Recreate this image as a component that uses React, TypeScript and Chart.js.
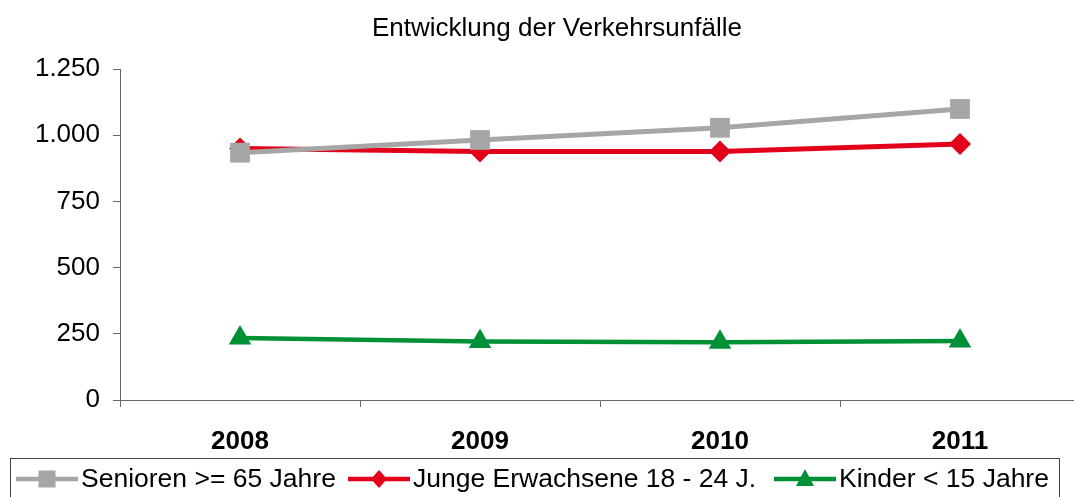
import React, { useEffect, useRef } from "react";
import { Chart, registerables } from "chart.js";

Chart.register(...registerables);

const categories = ["2008", "2009", "2010", "2011"];
const seniorenValues = [934, 982, 1028, 1099];
const jungeValues = [950, 938, 938, 967];
const kinderValues = [234, 221, 218, 223];
const yTicks = [0, 250, 500, 750, 1000, 1250];
const seriesLabels = ["Senioren >= 65 Jahre", "Junge Erwachsene 18 - 24 J.", "Kinder < 15 Jahre"];
const titleText = "Entwicklung der Verkehrsunfälle";

const GREY = "#A6A6A6";
const RED = "#E2001A";
const GREEN = "#009036";
const FONT = "'Liberation Sans', Arial, sans-serif";

function drawMarker(ctx: CanvasRenderingContext2D, style: string, x: number, y: number, color: string) {
  ctx.save();
  ctx.fillStyle = color;
  ctx.beginPath();
  if (style === "rect") {
    ctx.rect(x - 8.5, y - 8.5, 17, 17);
  } else if (style === "rectRot") {
    ctx.moveTo(x, y - 9);
    ctx.lineTo(x + 8, y);
    ctx.lineTo(x, y + 9);
    ctx.lineTo(x - 8, y);
    ctx.closePath();
  } else {
    ctx.moveTo(x, y - 10);
    ctx.lineTo(x + 9, y + 7);
    ctx.lineTo(x - 9, y + 7);
    ctx.closePath();
  }
  ctx.fill();
  ctx.restore();
}

const overlayPlugin = {
  id: "overlay",
  afterDraw(chart: any) {
    const ctx: CanvasRenderingContext2D = chart.ctx;
    ctx.save();
    // title
    ctx.fillStyle = "#000";
    ctx.font = `26px ${FONT}`;
    ctx.textAlign = "center";
    ctx.textBaseline = "middle";
    ctx.fillText(titleText, 557, 29);
    // legend box
    ctx.strokeStyle = "#404040";
    ctx.lineWidth = 1;
    ctx.strokeRect(10.5, 458.5, 1049, 60);
    const items = [
      { x: 16, color: GREY, style: "rect" },
      { x: 348, color: RED, style: "rectRot" },
      { x: 774, color: GREEN, style: "triangle" },
    ];
    const ly = 479;
    items.forEach((it, i) => {
      ctx.strokeStyle = it.color;
      ctx.lineWidth = 4.5;
      ctx.beginPath();
      ctx.moveTo(it.x, ly);
      ctx.lineTo(it.x + 62, ly);
      ctx.stroke();
      drawMarker(ctx, it.style, it.x + 31, ly, it.color);
      ctx.fillStyle = "#000";
      ctx.font = `26.5px ${FONT}`;
      ctx.textAlign = "left";
      ctx.textBaseline = "middle";
      ctx.fillText(seriesLabels[i], it.x + 65, ly + 1);
    });
    ctx.restore();
  },
};

export default function App() {
  const ref = useRef<HTMLCanvasElement>(null);
  useEffect(() => {
    if (!ref.current) return;
    const chart = new Chart(ref.current, {
      type: "line",
      data: {
        labels: categories,
        datasets: [
          {
            label: seriesLabels[0],
            data: seniorenValues,
            borderColor: GREY,
            backgroundColor: GREY,
            borderWidth: 5,
            pointStyle: "rect",
            pointRadius: 14,
            pointBorderWidth: 0,
          },
          {
            label: seriesLabels[1],
            data: jungeValues,
            borderColor: RED,
            backgroundColor: RED,
            borderWidth: 5,
            pointStyle: "rectRot",
            pointRadius: 11,
            pointBorderWidth: 0,
          },
          {
            label: seriesLabels[2],
            data: kinderValues,
            borderColor: GREEN,
            backgroundColor: GREEN,
            borderWidth: 4.5,
            pointStyle: "triangle",
            pointRadius: 13,
            pointBorderWidth: 0,
          },
        ],
      },
      options: {
        responsive: false,
        animation: false,
        layout: { padding: { top: 69, right: 20, left: 0, bottom: 0 } },
        plugins: { legend: { display: false }, title: { display: false }, tooltip: { enabled: false } },
        scales: {
          x: {
            offset: true,
            grid: { display: true, offset: true, drawOnChartArea: false, tickLength: 7, color: "#666", lineWidth: 1 },
            border: { color: "#666", width: 1 },
            ticks: { color: "#000", font: { family: FONT, size: 26, weight: "bold" }, padding: 19 },
            afterFit: (s: any) => { s.height = 97; },
          },
          y: {
            min: 0,
            max: 1250,
            afterBuildTicks: (s: any) => { s.ticks = yTicks.map((v) => ({ value: v })); },
            grid: { display: true, drawOnChartArea: false, tickLength: 7, color: "#666", lineWidth: 1 },
            border: { color: "#666", width: 1 },
            ticks: {
              color: "#000",
              font: { family: FONT, size: 26 },
              padding: 13,
              callback: (v: any) => Number(v).toLocaleString("de-DE"),
            },
            afterFit: (s: any) => { s.width = 120; },
          },
        },
      },
      plugins: [overlayPlugin],
    } as any);
    return () => chart.destroy();
  }, []);
  return (
    <div style={{ position: "fixed", left: 0, top: 0, width: 1074, height: 497, overflow: "hidden", background: "#fff" }}>
      <canvas ref={ref} width={1100} height={497} style={{ width: 1100, height: 497, display: "block" }} />
    </div>
  );
}
